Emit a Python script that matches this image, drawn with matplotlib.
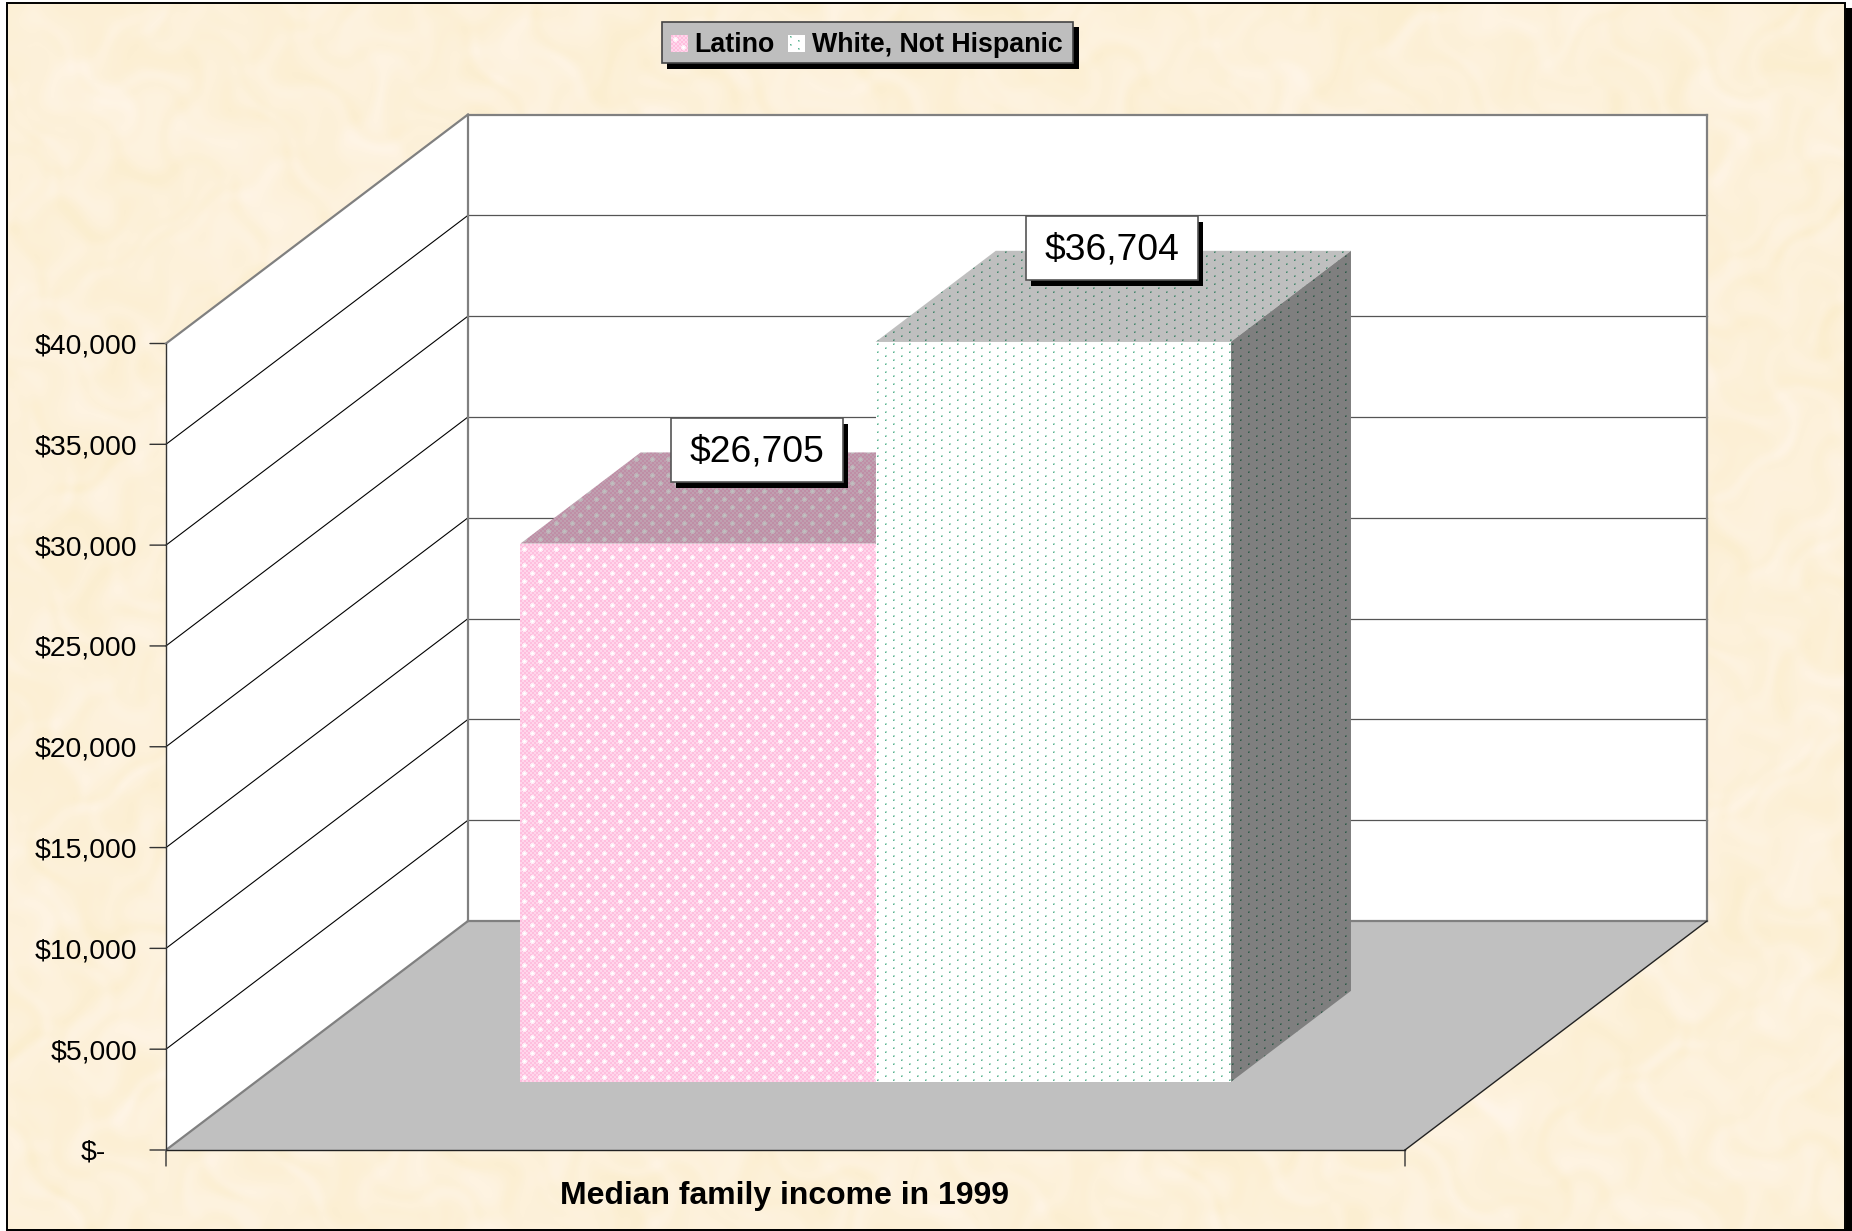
import numpy as np
import matplotlib
matplotlib.use("Agg")
import matplotlib.pyplot as plt
from matplotlib.patches import Polygon, Rectangle
from matplotlib.transforms import IdentityTransform

# ---- data ----
categories = ["Latino", "White, Not Hispanic"]
values = [26705, 36704]
value_labels = ["$26,705", "$36,704"]
ytick_values = [0, 5000, 10000, 15000, 20000, 25000, 30000, 35000, 40000]
ytick_labels = ["$-", "$5,000", "$10,000", "$15,000", "$20,000", "$25,000", "$30,000", "$35,000", "$40,000"]
xlabel = "Median family income in 1999"

W, H = 1852, 1231
DPI = 100
plt.rcParams["font.family"] = ["Liberation Sans", "DejaVu Sans"]
fig = plt.figure(figsize=(W / DPI, H / DPI), dpi=DPI, facecolor="white")


def px_rect(l, t, r, b):
    return [l / W, 1 - b / H, (r - l) / W, (b - t) / H]


# ---- parchment background (deterministic soft texture) ----
bg = fig.add_axes([0, 0, 1, 1], zorder=0)
bg.set_axis_off()
yy, xx = np.mgrid[0:H, 0:W].astype(float)
wx = xx + 40 * np.sin(yy / 43.0 + 0.7) + 25 * np.sin(yy / 17.0 + xx / 29.0)
wy = yy + 35 * np.sin(xx / 37.0 + 1.9) + 20 * np.sin(xx / 13.0 - yy / 23.0)
tex = np.zeros((H, W))
for fx, fy, ph, a in [(1 / 61.3, 1 / 47.9, 0.3, 0.5), (1 / 37.1, 1 / 52.3, 1.7, 0.6), (1 / 23.7, 1 / 29.3, 2.9, 0.9),
                      (1 / 17.9, 1 / 13.1, 4.1, 1.0), (1 / 11.3, 1 / 19.7, 5.3, 0.9), (1 / 7.9, 1 / 9.7, 0.9, 0.6)]:
    tex += a * np.sin(fx * wx + ph) * np.sin(fy * wy + 2 * ph)
tex /= np.abs(tex).max()
base = np.array([253, 241, 218], float)
spread = np.array([2, 4, 14], float)
img = np.clip(base + tex[..., None] * spread, 0, 255).astype(np.uint8)
bg.imshow(img, extent=(0, W, H, 0), interpolation="bilinear", aspect="auto")
bg.set_xlim(0, W)
bg.set_ylim(H, 0)
# white margin, frame, and hard shadow on the right and bottom
bg.add_patch(Rectangle((0, 0), W, 3, fc="white", ec="none"))
bg.add_patch(Rectangle((0, 0), 7, H, fc="white", ec="none"))
bg.add_patch(Rectangle((1846, 8), 6, H, fc="black", ec="none"))
bg.add_patch(Rectangle((1846, 0), 6, 8, fc="white", ec="none"))
bg.add_patch(Rectangle((7, 3), 1838, 1226.5, fill=False, ec="black", lw=1.4))
bg.add_patch(Rectangle((7, 1229), W, 3, fc="black", ec="none"))

# ---- chart axes: front plane of the 3-D box ----
FL, FR, FT, FB = 166, 1405, 343.5, 1150
ax = fig.add_axes(px_rect(FL, FT, FR, FB), zorder=1)
ax.set_xlim(0, 1)
ax.set_ylim(0, 40000)
ax.patch.set_alpha(0)
for s in ax.spines.values():
    s.set_visible(False)
ax.set_xticks([])
ax.set_yticks([])

# depth projection: depth 1 shifts to the back plane
DX = (468 - FL) / (FR - FL)
DY = (FB - 921) / (FB - FT) * 40000


def P(x, d, v):
    return (x + DX * d, v + DY * d)


GREY = "#808080"
ZMAX = 40000
# walls
ax.add_patch(Polygon([P(0, 0, 0), P(0, 1, 0), P(0, 1, ZMAX), P(0, 0, ZMAX)], fc="white", ec="none", clip_on=False, zorder=1))
ax.add_patch(Polygon([P(0, 1, 0), P(1, 1, 0), P(1, 1, ZMAX), P(0, 1, ZMAX)], fc="white", ec="none", clip_on=False, zorder=1))
ax.add_patch(Polygon([P(0, 0, 0), P(1, 0, 0), P(1, 1, 0), P(0, 1, 0)], fc="#C0C0C0", ec="none", clip_on=False, zorder=2))

# gridlines
for v in ytick_values[1:-1]:
    ax.plot(*zip(P(0, 0, v), P(0, 1, v)), color="black", lw=0.8, clip_on=False, zorder=3)
    ax.plot(*zip(P(0, 1, v), P(1, 1, v)), color="#555555", lw=0.9, clip_on=False, zorder=3)

# wall outlines
for a, b, lw, c in [
    (P(0, 0, ZMAX), P(0, 1, ZMAX), 1.6, GREY),
    (P(0, 1, ZMAX), P(1, 1, ZMAX), 1.6, GREY),
    (P(1, 1, ZMAX), P(1, 1, 0), 1.6, GREY),
    (P(0, 1, ZMAX), P(0, 1, 0), 1.6, GREY),
    (P(0, 1, 0), P(1, 1, 0), 1.6, GREY),
    (P(0, 0, 0), P(0, 1, 0), 1.6, GREY),
    (P(1, 0, 0), P(1, 1, 0), 1.0, "#222222"),
    (P(0, 0, 0), P(1, 0, 0), 1.0, "#222222"),
    (P(0, 0, 0), P(0, 0, ZMAX), 1.0, "#333333"),
]:
    ax.plot(*zip(a, b), color=c, lw=lw, clip_on=False, zorder=4, solid_capstyle="projecting")

# axis ticks and tick labels
for v, lab in zip(ytick_values, ytick_labels):
    ax.annotate("", xy=(0, v), xytext=(-16, 0), textcoords="offset pixels", annotation_clip=False,
                arrowprops=dict(arrowstyle="-", color="#333333", lw=1.0, shrinkA=0, shrinkB=0))
    tx = -29 if lab != "$-" else -60
    ax.annotate(lab, xy=(0, v), xytext=(tx, -3), textcoords="offset pixels", ha="right", va="center",
                fontsize=20.4, color="black", annotation_clip=False)
for x in (0, 1):
    ax.annotate("", xy=(x, 0), xytext=(0, -16), textcoords="offset pixels", annotation_clip=False,
                arrowprops=dict(arrowstyle="-", color="#333333", lw=1.0, shrinkA=0, shrinkB=0))
ax.annotate(xlabel, xy=(0.5, 0), xytext=(-1, -46), textcoords="offset pixels", ha="center", va="center",
            fontsize=23.0, fontweight="bold", annotation_clip=False)


def checker_tile():
    yy, xx = np.mgrid[0:16, 0:16]
    t = np.empty((16, 16, 3), float)
    t[...] = [255, 214, 235]
    t[(xx // 2 + yy // 2) % 2 == 0] = [255, 190, 222]
    for cy, cx in [(4, 4), (12, 12)]:
        dist = np.hypot(yy - cy, xx - cx)
        t[dist < 1.1] = [255, 255, 255]
        t[(dist >= 1.1) & (dist < 2.3)] = [255, 236, 246]
    return t


def dots_tile():
    t = np.full((8, 16, 3), 255.0)
    for cy, cx in [(1, 2), (5, 10)]:
        t[cy, cx] = [95, 175, 145]
        for dy, dx in [(0, 1), (1, 0), (1, 1)]:
            t[cy + dy, cx + dx] = [175, 222, 203]
    return t


def tiled(tile, h, w, shade=1.0):
    ny = h // tile.shape[0] + 2
    nx = w // tile.shape[1] + 2
    arr = np.tile(tile, (ny, nx, 1))[:h, :w]
    return np.clip(arr * shade, 0, 255).astype(np.uint8)


def face(poly, tile, shade, z):
    """Fill a polygon (data coords) with a pixel-aligned pattern."""
    disp = ax.transData.transform(np.array(poly))
    x0, y0 = np.floor(disp.min(axis=0)).astype(int)
    x1, y1 = np.ceil(disp.max(axis=0)).astype(int)
    arr = tiled(tile, y1 - y0, x1 - x0, shade)
    inv = ax.transData.inverted()
    (dl, db), (dr, dt) = inv.transform([(x0, y0), (x1, y1)])
    pg = Polygon(poly, transform=ax.transData, fc="none", ec="none", clip_on=False)
    ax.add_patch(pg)
    im = ax.imshow(arr, extent=(dl, dr, db, dt), origin="lower", interpolation="nearest", aspect="auto", zorder=z)
    im.set_clip_box(fig.bbox)
    im.set_clip_path(pg)
    ax.set_xlim(0, 1)
    ax.set_ylim(0, 40000)


# ---- bars ----
D0, D1 = 0.297, 0.695
edges = [0.2137, 0.5003, 0.7870]
tiles = [checker_tile(), dots_tile()]
for i, v in enumerate(values):
    l, r = edges[i], edges[i + 1]
    z = 5 + i
    face([P(l, D0, v), P(r, D0, v), P(r, D1, v), P(l, D1, v)], tiles[i], 0.75, z)
    face([P(r, D0, 0), P(r, D1, 0), P(r, D1, v), P(r, D0, v)], tiles[i], 0.5, z)
    face([P(l, D0, 0), P(r, D0, 0), P(r, D0, v), P(l, D0, v)], tiles[i], 1.0, z + 0.5)
ax.set_xlim(0, 1)
ax.set_ylim(0, 40000)
ax.set_aspect("auto")

# ---- value labels (boxes with hard shadow, anchored to each bar) ----
BOX_W, BOX_H = 172, 64
for i, (v, lab) in enumerate(zip(values, value_labels)):
    anchor = P((edges[i] + edges[i + 1]) / 2, (D0 + D1) / 2, v)
    cx, cy = ax.transData.transform(anchor) + np.array([-1, 48])
    ax.add_patch(Rectangle((cx - BOX_W / 2 + 5, cy - BOX_H / 2 - 6), BOX_W, BOX_H, fc="black", ec="none",
                           transform=IdentityTransform(), clip_on=False, zorder=11))
    ax.add_patch(Rectangle((cx - BOX_W / 2, cy - BOX_H / 2), BOX_W, BOX_H, fc="white", ec="#555555", lw=1.2,
                           transform=IdentityTransform(), clip_on=False, zorder=12))
    ax.annotate(lab, xy=anchor, xytext=(-1, 46), textcoords="offset pixels", ha="center", va="center",
                fontsize=26.8, color="black", annotation_clip=False, zorder=13)

# ---- legend ----
lg = fig.add_axes(px_rect(661, 21, 1073, 63), zorder=3)
lg.set_axis_off()
lg.add_patch(Rectangle((667, 27), 412, 42, fc="black", ec="none", clip_on=False))
lg.add_patch(Rectangle((661.5, 21.5), 411, 41.5, fc="#BEBEBE", ec="#444444", lw=1.2, clip_on=False, zorder=2))
lg.imshow(tiled(tiles[0], 17, 17), extent=(671, 688, 52, 35), interpolation="nearest", aspect="auto", zorder=3)
lg.imshow(tiled(tiles[1], 17, 17), extent=(788, 805, 52, 35), interpolation="nearest", aspect="auto", zorder=3)
lg.set_xlim(661, 1073)
lg.set_ylim(63, 21)
lg.text(694, 45, categories[0], fontsize=19.3, fontweight="bold", va="center", ha="left", zorder=4)
lg.text(812, 45, categories[1], fontsize=19.3, fontweight="bold", va="center", ha="left", zorder=4)

fig.savefig("out.png", dpi=DPI)
